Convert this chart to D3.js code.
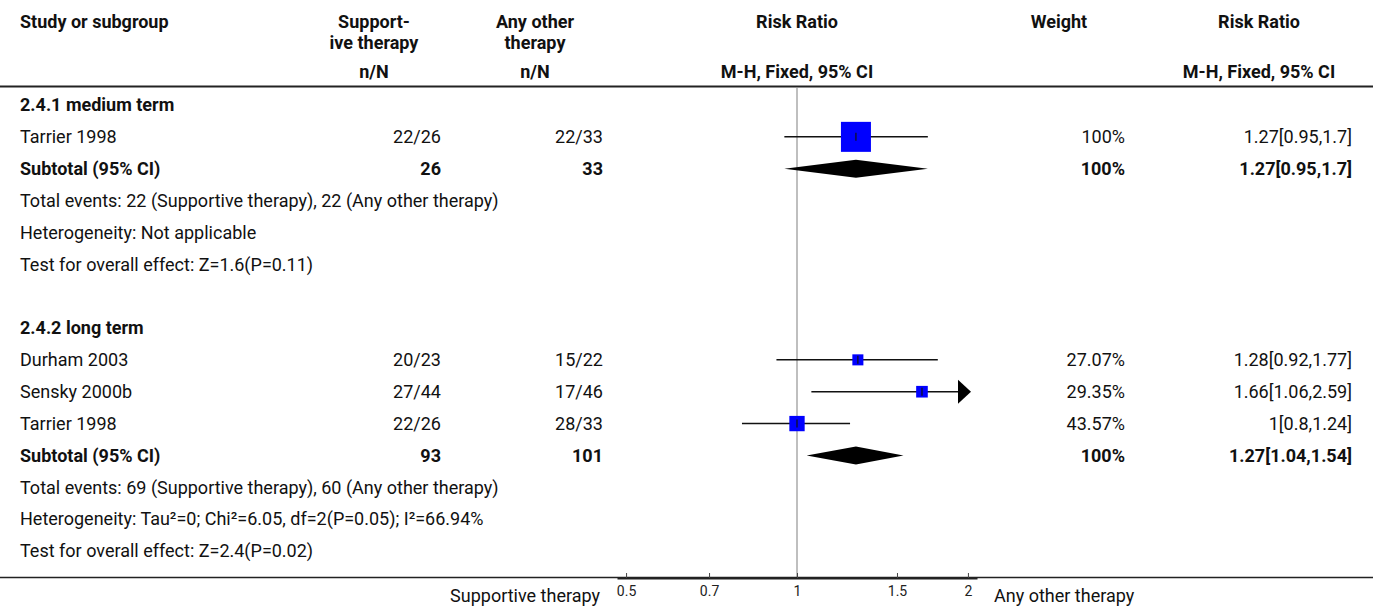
<!DOCTYPE html>
<html>
<head>
<meta charset="utf-8">
<script src="https://cdn.jsdelivr.net/npm/d3@7"></script>
<style>
  body { margin: 0; background: #fff; }
  svg { display: block; font-family: Roboto, "Open Sans", sans-serif; }
</style>
</head>
<body>
<svg id="forest" width="1373" height="606"></svg>
<script>
// --- data ---
const subgroups = ["2.4.1 medium term", "2.4.2 long term"];
const studies = ["Tarrier 1998", "Durham 2003", "Sensky 2000b", "Tarrier 1998"];
const studyGroup = [0, 1, 1, 1];
const supportiveNN = ["22/26", "20/23", "27/44", "22/26"];
const otherNN = ["22/33", "15/22", "17/46", "28/33"];
const weights = [100, 27.07, 29.35, 43.57];
const rr = [1.27, 1.28, 1.66, 1];
const ciLow = [0.95, 0.92, 1.06, 0.8];
const ciHigh = [1.7, 1.77, 2.59, 1.24];

const subtotalSupportN = [26, 93];
const subtotalOtherN = [33, 101];
const subtotalRR = [1.27, 1.27];
const subtotalLow = [0.95, 1.04];
const subtotalHigh = [1.7, 1.54];
const totalEvents = [
  "Total events: 22 (Supportive therapy), 22 (Any other therapy)",
  "Total events: 69 (Supportive therapy), 60 (Any other therapy)"
];
const heterogeneity = [
  "Heterogeneity: Not applicable",
  "Heterogeneity: Tau\u00b2=0; Chi\u00b2=6.05, df=2(P=0.05); I\u00b2=66.94%"
];
const overallEffect = [
  "Test for overall effect: Z=1.6(P=0.11)",
  "Test for overall effect: Z=2.4(P=0.02)"
];
const axisTicks = [0.5, 0.7, 1, 1.5, 2];

const svg = d3.select("#forest");
const W = +svg.attr("width");
const FS = 18;

// column positions
const col = { study: 20, sup: 441, supC: 374, oth: 603, othC: 535, plotC: 797, wt: 1125, wtC: 1059, rrR: 1352, rrC: 1259 };

const x = d3.scaleLog().domain([1 / 2.075, 2.075]).range([617, 977]);
const y = d3.scaleLinear().domain([0, 14]).range([105, 551]);

// build row list
const rows = [];
let r = 0;
subgroups.forEach((sg, g) => {
  rows.push({ type: "head", i: r++, text: sg });
  studies.forEach((s, k) => {
    if (studyGroup[k] === g) rows.push({ type: "study", i: r++, k });
  });
  rows.push({ type: "sub", i: r++, g });
  rows.push({ type: "note", i: r++, text: totalEvents[g] });
  rows.push({ type: "note", i: r++, text: heterogeneity[g] });
  rows.push({ type: "note", i: r++, text: overallEffect[g] });
  r++; // blank row
});

const txt = (sel, xp, yp, s, anchor, bold, size) => sel.append("text")
  .attr("x", xp).attr("y", yp).attr("dy", "0.35em")
  .attr("text-anchor", anchor || "start")
  .attr("font-weight", bold ? "bold" : "normal")
  .attr("font-size", size || FS)
  .attr("fill", "#111")
  .text(s);

// header
const hd = svg.append("g");
txt(hd, col.study, 22, "Study or subgroup", "start", true);
txt(hd, col.supC, 22, "Support-", "middle", true);
txt(hd, col.supC, 43, "ive therapy", "middle", true);
txt(hd, col.supC, 72, "n/N", "middle", true);
txt(hd, col.othC, 22, "Any other", "middle", true);
txt(hd, col.othC, 43, "therapy", "middle", true);
txt(hd, col.othC, 72, "n/N", "middle", true);
txt(hd, col.plotC, 22, "Risk Ratio", "middle", true);
txt(hd, col.plotC, 72, "M-H, Fixed, 95% CI", "middle", true);
txt(hd, col.wtC, 22, "Weight", "middle", true);
txt(hd, col.rrC, 22, "Risk Ratio", "middle", true);
txt(hd, col.rrC, 72, "M-H, Fixed, 95% CI", "middle", true);

svg.append("line").attr("x1", 0).attr("x2", W).attr("y1", 86.5).attr("y2", 86.5)
  .attr("stroke", "#222").attr("stroke-width", 2);

// reference line at 1
svg.append("line").attr("x1", x(1)).attr("x2", x(1)).attr("y1", 88).attr("y2", 578)
  .attr("stroke", "#aaa").attr("stroke-width", 1.5);

const body = svg.append("g");
const size = d3.scaleLinear().domain([0, 100]).range([4, 30]);
const [xmin, xmax] = x.range();

rows.forEach(row => {
  const yy = y(row.i);
  if (row.type === "head") {
    txt(body, col.study, yy, row.text, "start", true);
  } else if (row.type === "note") {
    txt(body, col.study, yy, row.text, "start", false);
  } else if (row.type === "study") {
    const k = row.k;
    txt(body, col.study, yy, studies[k]);
    txt(body, col.sup, yy, supportiveNN[k], "end");
    txt(body, col.oth, yy, otherNN[k], "end");
    txt(body, col.wt, yy, weights[k] + "%", "end");
    txt(body, col.rrR, yy, `${rr[k]}[${ciLow[k]},${ciHigh[k]}]`, "end");
    const lx = Math.max(xmin, x(ciLow[k]));
    const over = x(ciHigh[k]) > xmax;
    const rx = over ? xmax - 12 : x(ciHigh[k]);
    body.append("line").attr("x1", lx).attr("x2", rx).attr("y1", yy).attr("y2", yy)
      .attr("stroke", "#111").attr("stroke-width", 1.5);
    if (over) {
      body.append("path")
        .attr("d", `M${xmax - 19},${yy - 12}L${xmax - 6},${yy}L${xmax - 19},${yy + 12}Z`)
        .attr("fill", "#000");
    }
    const s = size(weights[k]);
    body.append("rect").attr("x", x(rr[k]) - s / 2).attr("y", yy - s / 2)
      .attr("width", s).attr("height", s).attr("fill", "#0000ff");
    body.append("line").attr("x1", x(rr[k])).attr("x2", x(rr[k]))
      .attr("y1", yy - 4).attr("y2", yy + 4).attr("stroke", "#111").attr("stroke-width", 1.2);
  } else if (row.type === "sub") {
    const g = row.g;
    txt(body, col.study, yy, "Subtotal (95% CI)", "start", true);
    txt(body, col.sup, yy, subtotalSupportN[g], "end", true);
    txt(body, col.oth, yy, subtotalOtherN[g], "end", true);
    txt(body, col.wt, yy, "100%", "end", true);
    txt(body, col.rrR, yy, `${subtotalRR[g]}[${subtotalLow[g]},${subtotalHigh[g]}]`, "end", true);
    const c = x(subtotalRR[g]), l = x(subtotalLow[g]), h = x(subtotalHigh[g]);
    body.append("path")
      .attr("d", `M${l},${yy}L${c},${yy - 9}L${h},${yy}L${c},${yy + 9}Z`)
      .attr("fill", "#000");
  }
});

// bottom axis
svg.append("line").attr("x1", 0).attr("x2", W).attr("y1", 577.5).attr("y2", 577.5)
  .attr("stroke", "#222").attr("stroke-width", 1.5);

const ax = svg.append("g").attr("transform", "translate(0,578)")
  .call(d3.axisTop(x).tickValues(axisTicks).tickFormat(d3.format("")).tickSize(5).tickSizeOuter(0))
  .attr("font-size", 14).attr("font-family", "Roboto, sans-serif");
ax.select(".domain").attr("stroke", "#222").attr("stroke-width", 2);
ax.selectAll(".tick line").attr("stroke", "#444");
ax.selectAll(".tick text").attr("y", 18).attr("dy", "0")
  .style("font-size", "14px").attr("fill", "#222");

txt(svg, 600, 596, "Supportive therapy", "end");
txt(svg, 994, 596, "Any other therapy", "start");
</script>
</body>
</html>
